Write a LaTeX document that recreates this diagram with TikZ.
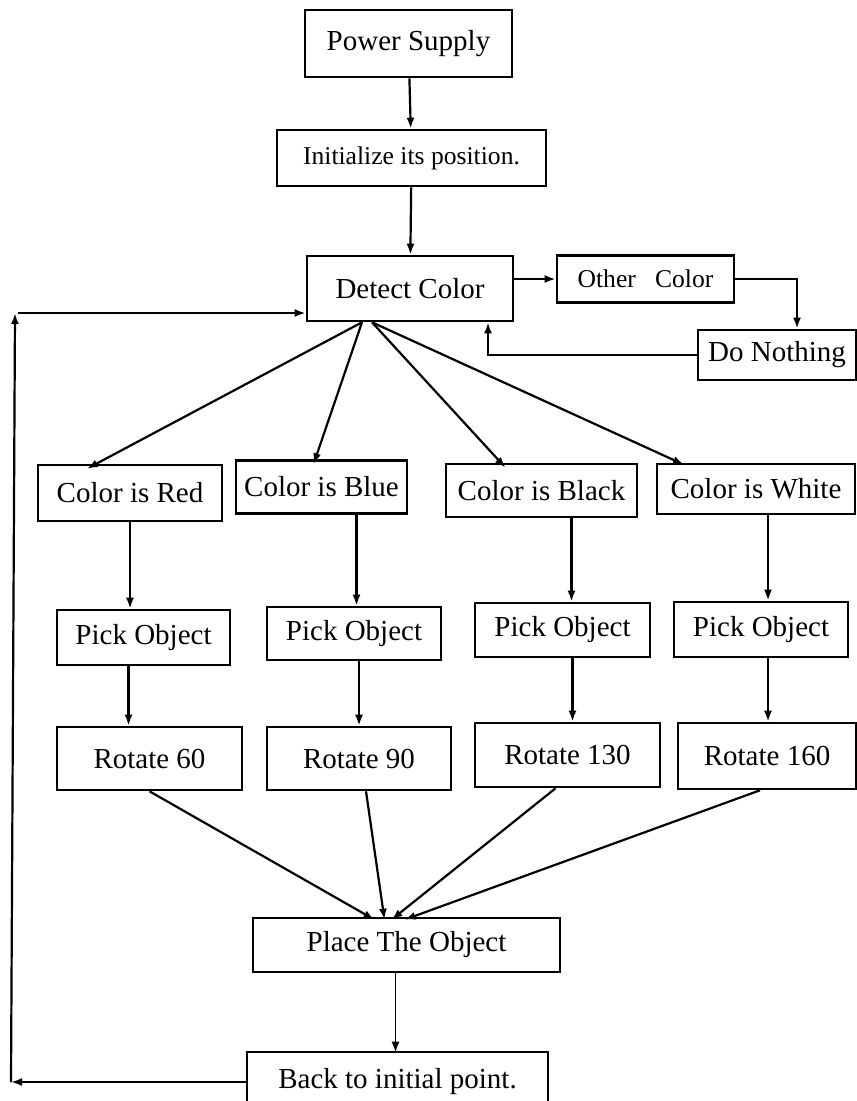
\documentclass[tikz,border=0pt]{standalone}
\usepackage{fontspec}
\setmainfont{Liberation Serif}
\usepackage{tikz}
\usetikzlibrary{arrows.meta,positioning,calc}

\tikzset{
  box/.style={draw, line width=2.6pt, inner sep=0pt, font=\fontsize{29}{34}\selectfont},
  smallbox/.style={box, font=\fontsize{25.6}{30}\selectfont},
  arr/.style={-{Latex[length=11pt,width=8pt]}, line width=2.2pt},
}

\begin{document}
\begin{tikzpicture}[x=1pt,y=-1pt]
      \useasboundingbox (0,0) rectangle (857,1101);

      \node[box, minimum width=207pt, minimum height=67pt] at (408.5,43.5)(power){Power Supply};
      \node[smallbox, minimum width=269pt, minimum height=56pt] at (411.5,158)(init){Initialize its position.};
      \node[box, minimum width=206pt, minimum height=65pt] at (410,288.5)(detect){Detect Color};
      \node[smallbox, minimum width=177pt, minimum height=47pt] at (645.5,279)(other){Other~~~Color};
      \node[box, minimum width=158pt, minimum height=50pt] at (777,355)(nothing){Do Nothing};

      \node[box, minimum width=184pt, minimum height=56pt] at (130,493)(red){Color is Red};
      \node[box, minimum width=171pt, minimum height=53pt] at (321.5,487)(blue){Color is Blue};
      \node[box, minimum width=191pt, minimum height=53pt] at (541.5,490.5)(black){Color is Black};
      \node[box, minimum width=198pt, minimum height=50pt] at (756,489)(white){Color is White};

      \node[box, minimum width=173pt, minimum height=55pt] at (143.5,637.5)(pick1){Pick Object};
      \node[box, minimum width=174pt, minimum height=53pt] at (354,633.5)(pick2){Pick Object};
      \node[box, minimum width=175pt, minimum height=54pt] at (562.5,630)(pick3){Pick Object};
      \node[box, minimum width=174pt, minimum height=55pt] at (761,629.5)(pick4){Pick Object};

      \node[box, minimum width=185pt, minimum height=63pt] at (149.5,758.5)(rot1){Rotate 60};
      \node[box, minimum width=184pt, minimum height=63pt] at (359,758.5)(rot2){Rotate 90};
      \node[box, minimum width=185pt, minimum height=64pt] at (567.5,755)(rot3){Rotate 130};
      \node[box, minimum width=178pt, minimum height=66pt] at (767,756)(rot4){Rotate 160};

      \node[box, minimum width=307pt, minimum height=54pt] at (406.5,945)(place){Place The Object};
      \node[box, minimum width=301pt, minimum height=60pt] at (397.5,1082)(back){Back to initial point.};

      \coordinate (fan) at ([xshift=-48pt]detect.south);
      \coordinate (fan2) at ([xshift=-38pt]detect.south);
      \coordinate (lb) at (11,1082);
      \coordinate (lt) at (15,313);

      \draw[arr] (power) -- (init);
      \draw[arr] (init) -- (detect);
      \draw[arr] (detect.east |- other) -- (other.west);
      \draw[arr] (other.east) -| ([xshift=20pt]nothing.north);
      \draw[arr] (nothing.west) -| ([xshift=78pt]detect.south);

      \draw[arr] (fan) -- ([xshift=-43pt,yshift=-5pt]red.north);
      \draw[arr] (fan) -- ([xshift=-8pt,yshift=-5pt]blue.north);
      \draw[arr] (fan2) -- ([xshift=-36pt,yshift=-5pt]black.north);
      \draw[arr] (fan2) -- ([xshift=-72pt,yshift=-2pt]white.north);

      \draw[arr] (red) -- (red |- pick1.north);
      \draw[arr] ([xshift=35pt]blue.south) -- ([xshift=35pt]blue.south |- pick2.north);
      \draw[arr] ([xshift=30pt]black.south) -- ([xshift=30pt]black.south |- pick3.north);
      \draw[arr] ([xshift=12pt]white.south) -- ([xshift=12pt]white.south |- pick4.north);

      \draw[arr] ([xshift=-15pt]pick1.south) -- ([xshift=-15pt]pick1.south |- rot1.north);
      \draw[arr] ([xshift=5pt]pick2.south) -- ([xshift=5pt]pick2.south |- rot2.north);
      \draw[arr] ([xshift=10pt]pick3.south) -- ([xshift=10pt]pick3.south |- rot3.north);
      \draw[arr] ([xshift=7pt]pick4.south) -- ([xshift=7pt]pick4.south |- rot4.north);

      \draw[arr] (rot1.south) -- ([xshift=-32pt,yshift=-3pt]place.north);
      \draw[arr] ([xshift=7pt]rot2.south) -- ([xshift=-22pt,yshift=-3pt]place.north);
      \draw[arr] ([xshift=-12pt]rot3.south) -- ([xshift=-15pt,yshift=-3pt]place.north);
      \draw[arr] ([xshift=-7pt]rot4.south) -- ([xshift=-2pt,yshift=-3pt]place.north);

      \draw[arr, line width=1.6pt] ([xshift=-11pt]place.south) -- ([xshift=-11pt,yshift=-2pt]place.south |- back.north);
      \draw[arr] (back.west) -- (lb);
      \draw[arr] (lb) -- (lt);
      \draw[arr] ([xshift=3pt]lt) -- (lt -| detect.west);
\end{tikzpicture}
\end{document}
